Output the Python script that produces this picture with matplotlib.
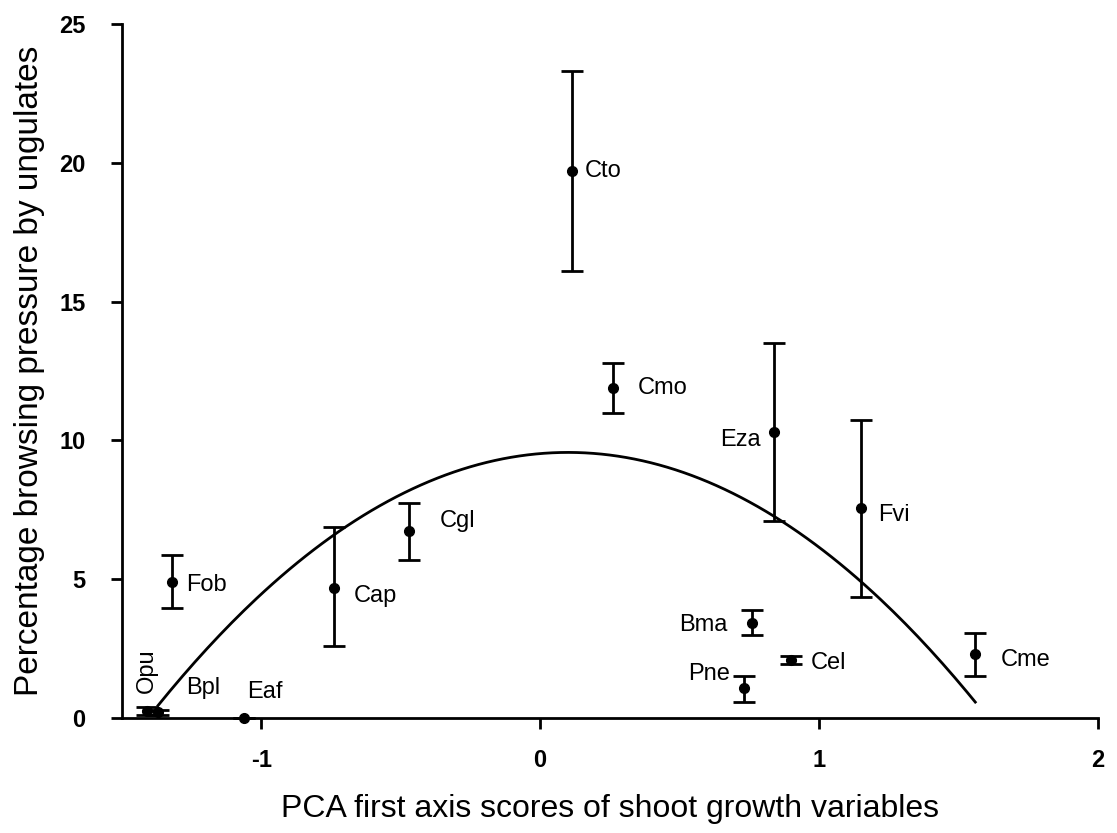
import numpy as np
import matplotlib
matplotlib.use("Agg")
import matplotlib.pyplot as plt

plt.rcParams['font.family'] = ['Liberation Sans', 'DejaVu Sans']
plt.rcParams['axes.unicode_minus'] = False

# species codes, PCA scores and browsing pressure (mean, lower/upper bar ends)
species = ["Opu", "Bpl", "Eaf", "Fob", "Cap", "Cgl", "Cto", "Cmo",
           "Pne", "Bma", "Cel", "Eza", "Fvi", "Cme"]
pca = [-1.41, -1.37, -1.06, -1.32, -0.74, -0.47, 0.115, 0.26,
       0.73, 0.76, 0.90, 0.84, 1.15, 1.56]
browse = [0.25, 0.20, 0.0, 4.9, 4.7, 6.75, 19.7, 11.9,
          1.08, 3.42, 2.08, 10.3, 7.55, 2.3]
low = [0.1, 0.1, 0.0, 3.95, 2.6, 5.7, 16.1, 11.0,
       0.58, 3.0, 1.93, 7.1, 4.35, 1.5]
high = [0.4, 0.3, 0.0, 5.86, 6.87, 7.75, 23.3, 12.8,
        1.5, 3.9, 2.23, 13.5, 10.75, 3.05]

# label anchor for each species (x, y, horizontal alignment, rotation)
lab_x = [-1.41, -1.27, -1.05, -1.27, -0.67, -0.36, 0.16, 0.35,
         0.68, 0.67, 0.97, 0.79, 1.21, 1.65]
lab_y = [1.7, 1.1, 0.95, 4.8, 4.4, 7.1, 19.7, 11.9,
         1.6, 3.35, 2.0, 10.0, 7.3, 2.1]
lab_ha = ["center", "left", "left", "left", "left", "left", "left", "left",
          "right", "right", "left", "right", "left", "left"]
lab_rot = [90, 0, 0, 0, 0, 0, 0, 0, 0, 0, 0, 0, 0, 0]

# quadratic fit shown in the figure
fit_coef = [-4.22, 0.844, 9.528]
fit_range = [-1.37, 1.56]

fig = plt.figure(figsize=(11.17, 8.33), dpi=100)
ax = fig.add_axes([0.109, 0.138, 0.874, 0.833])

x = np.array(pca)
y = np.array(browse)
yerr = np.array([y - np.array(low), np.array(high) - y])
ax.errorbar(x, y, yerr=yerr, fmt='o', color='black', ms=7, elinewidth=2,
            capsize=8, capthick=2, clip_on=False, zorder=3)

xs = np.linspace(fit_range[0], fit_range[1], 200)
ax.plot(xs, np.polyval(fit_coef, xs), color='black', lw=2)

for i in range(len(species)):
    ax.text(lab_x[i], lab_y[i], species[i], ha=lab_ha[i], va='center',
            rotation=lab_rot[i], fontsize=17)

ax.set_xlim(-1.5, 2)
ax.set_ylim(0, 25)
ax.set_xticks([-1, 0, 1, 2])
ax.set_yticks([0, 5, 10, 15, 20, 25])
ax.spines['top'].set_visible(False)
ax.spines['right'].set_visible(False)
ax.spines['left'].set_linewidth(2)
ax.spines['bottom'].set_linewidth(2)
ax.tick_params(direction='out', length=8, width=2, labelsize=17)
ax.tick_params(axis='x', pad=14)
ax.tick_params(axis='y', pad=18)
for t in ax.get_xticklabels() + ax.get_yticklabels():
    t.set_fontweight('bold')

ax.set_xlabel("PCA first axis scores of shoot growth variables", fontsize=23, labelpad=16)
ax.set_ylabel("Percentage browsing pressure by ungulates", fontsize=24, labelpad=10)

fig.savefig("out.png", dpi=100)
